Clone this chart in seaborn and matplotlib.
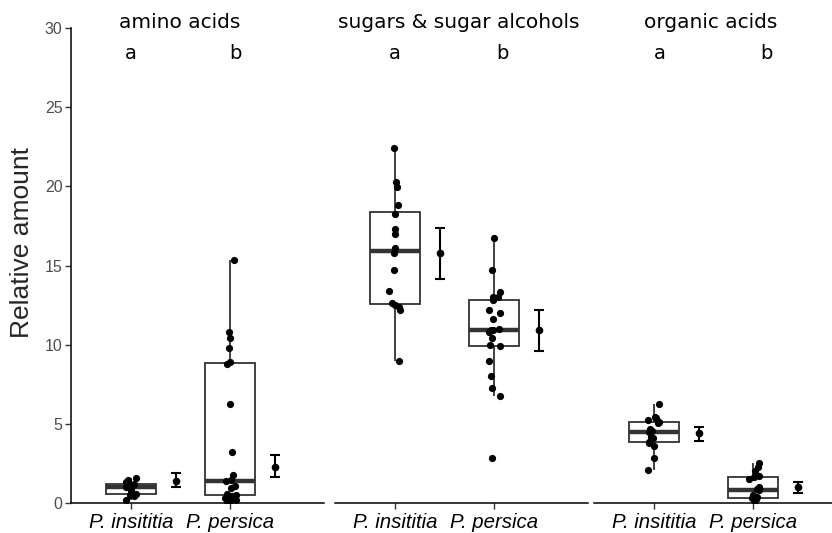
import numpy as np
import pandas as pd
import matplotlib
matplotlib.use("Agg")
import matplotlib.pyplot as plt
import seaborn as sns

# Compound classes (one panel each) and the two species compared
groups = ["amino acids", "sugars & sugar alcohols", "organic acids"]
species = ["P. insititia", "P. persica"]

# Per-sample relative amounts
amino_insititia = [0.2, 0.45, 0.5, 0.55, 0.6, 0.75, 0.9, 0.98, 1.02, 1.1,
                   1.15, 1.2, 1.22, 1.3, 1.45, 1.55]
amino_persica = [0.12, 0.15, 0.19, 0.3, 0.45, 0.52, 0.6, 0.97, 1.1, 1.38,
                 1.45, 1.77, 3.24, 6.27, 8.8, 8.9, 9.77, 10.4, 10.78, 15.35]
sugar_insititia = [8.99, 12.19, 12.4, 12.5, 12.61, 13.37, 14.72, 15.77, 16.08,
                   16.97, 17.33, 18.25, 18.82, 19.94, 20.3, 22.4]
sugar_persica = [2.86, 6.76, 7.24, 8.02, 8.97, 9.92, 10.0, 10.4, 10.82, 10.9,
                 10.95, 10.97, 11.6, 12.02, 12.19, 12.82, 13.03, 13.03, 13.35,
                 14.72, 16.72]
organic_insititia = [2.08, 2.82, 3.62, 3.77, 3.83, 3.87, 4.12, 4.19, 4.46, 4.55,
                     4.65, 5.07, 5.14, 5.22, 5.39, 5.45, 6.25]
organic_persica = [0.15, 0.19, 0.25, 0.3, 0.3, 0.4, 0.5, 0.8, 0.9, 0.99, 1.5,
                   1.66, 1.7, 2.04, 2.25, 2.5]

# Estimated means with lower / upper confidence limits (insititia, persica)
amino_mean, amino_lo, amino_hi = [1.39, 2.25], [1.03, 1.66], [1.87, 3.03]
sugar_mean, sugar_lo, sugar_hi = [15.77, 10.93], [14.17, 9.60], [17.39, 12.19]
organic_mean, organic_lo, organic_hi = [4.40, 0.99], [3.92, 0.61], [4.82, 1.35]

# Significance letters per panel
letters = ["a", "b"]

samples = [
    (amino_insititia, amino_persica),
    (sugar_insititia, sugar_persica),
    (organic_insititia, organic_persica),
]
summaries = [
    (amino_mean, amino_lo, amino_hi),
    (sugar_mean, sugar_lo, sugar_hi),
    (organic_mean, organic_lo, organic_hi),
]

sns.set_theme(style="ticks")
plt.rcParams["font.family"] = ["Liberation Sans", "DejaVu Sans"]

W, H = 832, 533
fig = plt.figure(figsize=(W / 100, H / 100), dpi=100)

# Panel placement in pixels: left edge, width; shared top/bottom
panel_left = [71, 335, 594]
panel_width = 253
top_px, bottom_px = 28, 503
title_x = [180, 459, 711]
letter_offsets = [(0.0, 0.05), (0.0, 0.08), (0.06, 0.13)]

box_color = "#333333"

for i, (group, (s1, s2), (m, lo, hi)) in enumerate(zip(groups, samples, summaries)):
    ax = fig.add_axes([panel_left[i] / W, (H - bottom_px) / H,
                       panel_width / W, (bottom_px - top_px) / H])
    df = pd.DataFrame({
        "species": [species[0]] * len(s1) + [species[1]] * len(s2),
        "value": list(s1) + list(s2),
    })
    sns.boxplot(data=df, x="species", y="value", order=species, ax=ax,
                width=0.5, color="white", linecolor=box_color, linewidth=1.3,
                showcaps=False, showfliers=False,
                medianprops={"linewidth": 3.2, "color": box_color})
    np.random.seed(7 + i)
    sns.stripplot(data=df, x="species", y="value", order=species, ax=ax,
                  color="black", size=5.2, jitter=0.06, linewidth=0, zorder=3)

    xpos = np.arange(len(species)) + 0.45
    m = np.asarray(m)
    yerr = [m - np.asarray(lo), np.asarray(hi) - m]
    ax.errorbar(xpos, m, yerr=yerr, fmt="o", color="black", ms=4.5,
                capsize=3.6, elinewidth=1.5, capthick=1.5, zorder=4)

    for j, letter in enumerate(letters):
        ax.text(j + letter_offsets[i][j], 28.4, letter, ha="center", va="center",
                fontsize=14, family="DejaVu Sans", color="black")

    ax.set_xlim(-0.6, 1.94)
    ax.set_ylim(0, 30)
    ax.set_xlabel("")
    ax.set_ylabel("")
    ax.set_xticks(range(len(species)))
    ax.set_xticklabels(species, fontstyle="italic", fontsize=14.7, color="black")
    ax.tick_params(axis="x", length=4, width=1, color="#333333", pad=3)
    for side in ["top", "right"]:
        ax.spines[side].set_visible(False)
    ax.spines["bottom"].set_linewidth(1.1)
    ax.spines["bottom"].set_color("black")
    if i == 0:
        ax.set_yticks(np.arange(0, 31, 5))
        ax.tick_params(axis="y", length=4, width=1, color="#333333",
                       labelsize=11.5, labelcolor="#4D4D4D", pad=2)
        ax.spines["left"].set_linewidth(1.1)
        ax.spines["left"].set_color("black")
        ax.set_ylabel("Relative amount", fontsize=19)
        ax.yaxis.set_label_coords(-37 / panel_width, (bottom_px - 243) / (bottom_px - top_px))
    else:
        ax.spines["left"].set_visible(False)
        ax.set_yticks([])
    ax.patch.set_alpha(0)

    fig.text(title_x[i] / W, 1 - 23 / H, group, ha="center", va="center",
             fontsize=14.5, family="DejaVu Sans", color="black")

fig.savefig("out.png", dpi=100)
